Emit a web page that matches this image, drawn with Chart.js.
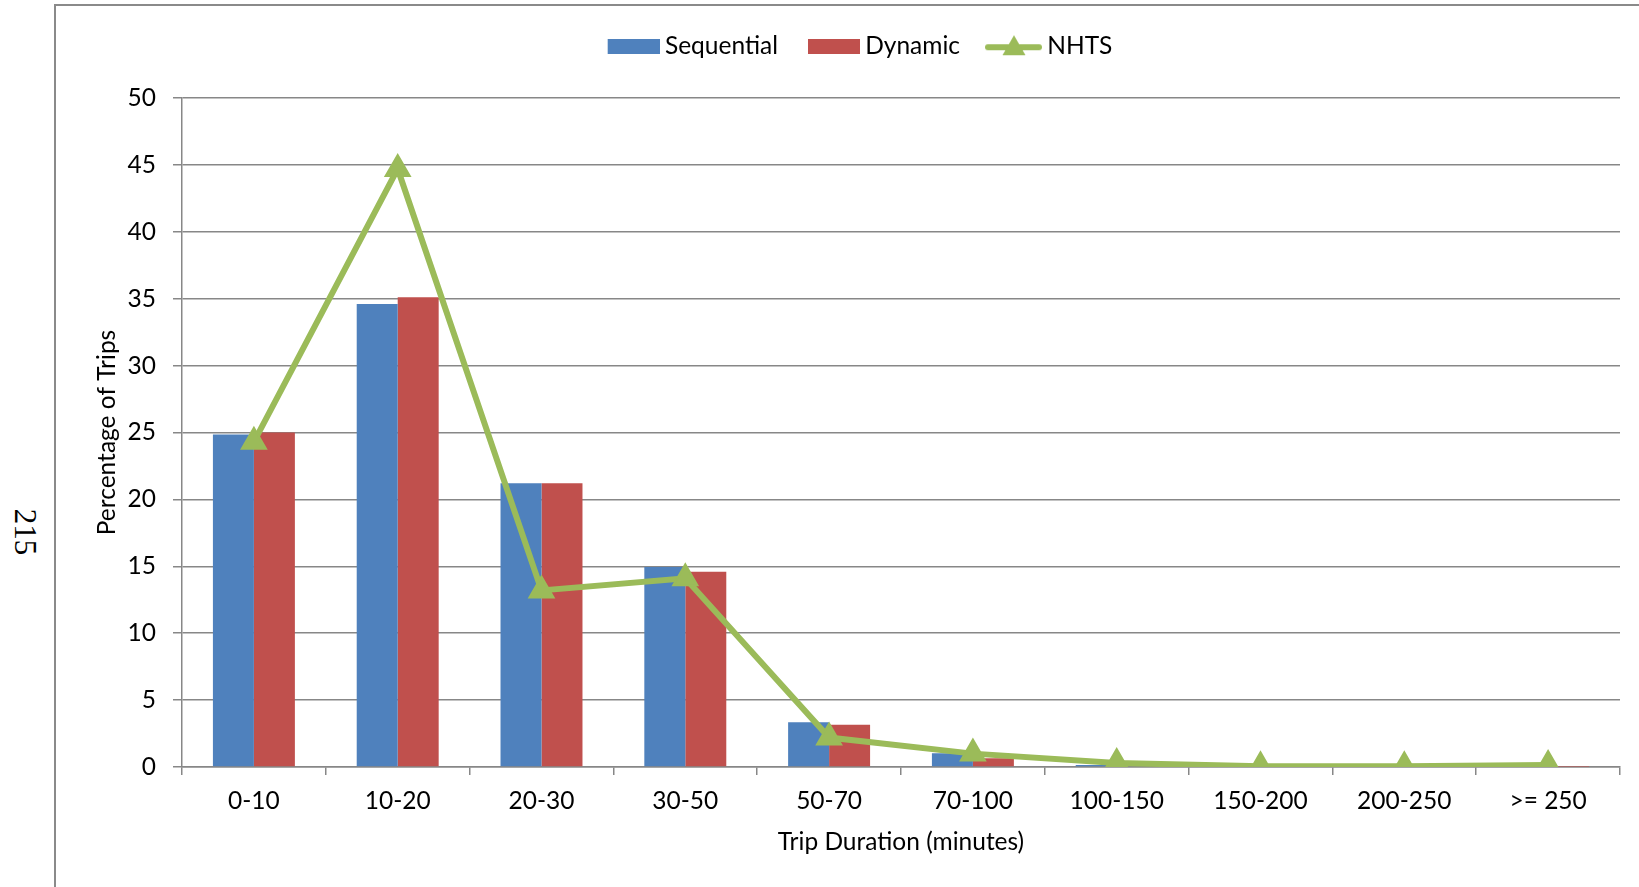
<!DOCTYPE html>
<html>
<head>
<meta charset="utf-8">
<script src="https://cdn.jsdelivr.net/npm/chart.js@4/dist/chart.umd.min.js"></script>
<style>
html,body{margin:0;padding:0;background:#fff;width:1639px;height:887px;overflow:hidden}
#frame{position:absolute;left:54px;top:4px;width:1700px;height:1000px;border-left:2px solid #8a8a8a;border-top:2px solid #8a8a8a;box-sizing:border-box}
#page{position:absolute;left:25px;top:532px;font-family:"Liberation Serif","DejaVu Serif",serif;font-size:31px;line-height:1;transform:translate(-50%,-50%) rotate(90deg);color:#000}
#wrap{position:absolute;left:0;top:0;width:1639px;height:887px}
</style>
</head>
<body>
<div id="frame"></div>
<div id="page">215</div>
<div id="wrap"><canvas id="c"></canvas></div>
<script>
// ---- data ----
const categories = ['0-10', '10-20', '20-30', '30-50', '50-70', '70-100', '100-150', '150-200', '200-250', '>= 250'];
const sequential = [24.85, 34.6, 21.2, 14.95, 3.35, 1.03, 0.15, 0.02, 0.01, 0.02];
const dynamic = [25.0, 35.1, 21.2, 14.6, 3.15, 0.65, 0.05, 0.01, 0.01, 0.01];
const nhts = [24.3, 44.7, 13.2, 14.1, 2.2, 1.0, 0.3, 0.05, 0.05, 0.15];
const yTicks = [0, 5, 10, 15, 20, 25, 30, 35, 40, 45, 50];
const seriesNames = ['Sequential', 'Dynamic', 'NHTS'];
const xTitle = 'Trip Duration (minutes)';
const yTitle = 'Percentage of Trips';

// ---- styles ----
const BLUE = '#4F81BD', RED = '#C0504D', GREEN = '#9BBB59', GRID = '#878787';
const FONT = 'Lato';
const FS = 24.5;

function boxImg(color) {
  const c = document.createElement('canvas');
  c.width = 79; c.height = 15;
  const g = c.getContext('2d');
  g.fillStyle = color;
  g.fillRect(27, 0, 52, 15);
  return c;
}
function lineImg(color) {
  const c = document.createElement('canvas');
  c.width = 79; c.height = 24;
  const g = c.getContext('2d');
  g.strokeStyle = color; g.lineWidth = 6; g.lineCap = 'round';
  g.beginPath(); g.moveTo(25, 13); g.lineTo(76, 13); g.stroke();
  g.fillStyle = color;
  g.beginPath(); g.moveTo(51, 1); g.lineTo(62.5, 21); g.lineTo(39.5, 21); g.closePath(); g.fill();
  return c;
}

function build() {
  const ctx = document.getElementById('c');
  const legendImgs = [boxImg(BLUE), boxImg(RED), lineImg(GREEN)];
  new Chart(ctx, {
    data: {
      labels: categories,
      datasets: [
        { type: 'bar', label: seriesNames[0], data: sequential, backgroundColor: BLUE, order: 1,
          categoryPercentage: 0.57, barPercentage: 1.0 },
        { type: 'bar', label: seriesNames[1], data: dynamic, backgroundColor: RED, order: 2,
          categoryPercentage: 0.57, barPercentage: 1.0 },
        { type: 'line', label: seriesNames[2], data: nhts, order: 0,
          borderColor: GREEN, backgroundColor: GREEN, borderWidth: 6, tension: 0,
          pointStyle: 'triangle', pointRadius: 14, pointHoverRadius: 14,
          pointBackgroundColor: GREEN, pointBorderColor: GREEN, pointBorderWidth: 2 }
      ]
    },
    options: {
      responsive: true,
      maintainAspectRatio: false,
      animation: false,
      events: [],
      layout: { padding: { left: 80, right: 19, top: 24, bottom: 0 } },
      plugins: {
        tooltip: { enabled: false },
        legend: {
          display: true, position: 'top', align: 'center',
          labels: {
            usePointStyle: true, pointStyleWidth: 65, padding: 10,
            color: '#000', font: { family: FONT, size: FS },
            generateLabels(chart) {
              return chart.data.datasets.map((d, i) => ({
                text: d.label, pointStyle: legendImgs[i], datasetIndex: i,
                fillStyle: 'transparent', strokeStyle: 'transparent', lineWidth: 0, hidden: false
              }));
            }
          }
        },
        subtitle: { display: true, text: '', position: 'top', weight: 0,
          font: { size: 10, lineHeight: 1 }, padding: { top: 0, bottom: 19.5 } },
        title: { display: false }
      },
      scales: {
        x: {
          type: 'category', offset: true,
          grid: { display: true, offset: true, drawOnChartArea: false, drawTicks: true, tickLength: 8, color: GRID, lineWidth: 1.5 },
          border: { display: true, color: GRID, width: 1.5 },
          ticks: { padding: 11, color: '#000', font: { family: FONT, size: FS }, maxRotation: 0, autoSkip: false },
          title: { display: true, text: xTitle, color: '#000', font: { family: FONT, size: FS }, padding: { top: 0, bottom: 30 } },
          afterFit(s) { s.height = 120; }
        },
        y: {
          type: 'linear', min: yTicks[0], max: yTicks[yTicks.length - 1],
          afterBuildTicks(s) { s.ticks = yTicks.map(v => ({ value: v })); },
          grid: { display: true, color: GRID, lineWidth: 1.5, drawTicks: true, tickLength: 9 },
          border: { display: true, color: GRID, width: 1.5 },
          ticks: { padding: 17, color: '#000', font: { family: FONT, size: FS } },
          title: { display: true, text: yTitle, color: '#000', font: { family: FONT, size: FS }, padding: { top: 12, bottom: 0 } },
          afterFit(s) { s.width = 102; }
        }
      }
    }
  });
}

if (document.fonts && document.fonts.load) {
  Promise.all([document.fonts.load('24px Lato')]).then(build, build);
} else { build(); }
</script>
</body>
</html>
